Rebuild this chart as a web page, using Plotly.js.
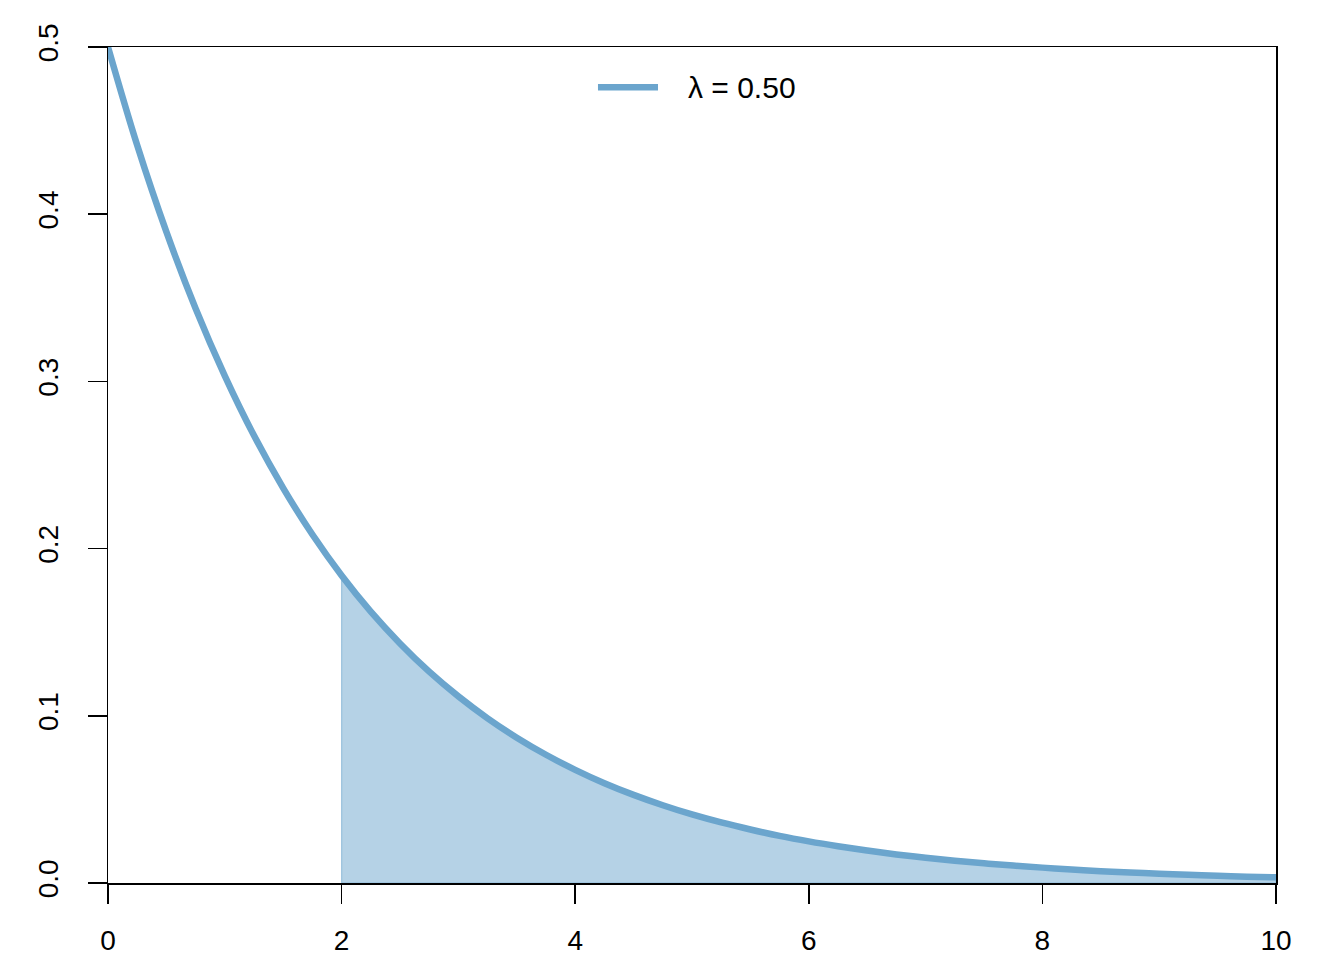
<!DOCTYPE html>
<html>
<head>
<meta charset="utf-8">
<script src="https://cdn.plot.ly/plotly-3.0.1.min.js"></script>
<style>html,body{margin:0;padding:0;background:#fff;}#chart{width:1344px;height:960px;}</style>
</head>
<body>
<div id="chart"></div>
<script>
// Values (density curve, lambda = 0.50)
const xValues = [0,0.25,0.5,0.75,1,1.25,1.5,1.75,2,2.25,2.5,2.75,3,3.25,3.5,3.75,4,4.25,4.5,4.75,5,5.25,5.5,5.75,6,6.25,6.5,6.75,7,7.25,7.5,7.75,8,8.25,8.5,8.75,9,9.25,9.5,9.75,10];
const densityValues = [0.5,0.4412,0.3894,0.3436,0.3033,0.2676,0.2362,0.2084,0.1839,0.1623,0.1433,0.1264,0.1116,0.0985,0.0869,0.0767,0.0677,0.0597,0.0527,0.0465,0.0410,0.0362,0.0320,0.0282,0.0249,0.0220,0.0194,0.0171,0.0151,0.0133,0.0118,0.0104,0.0092,0.0081,0.0071,0.0063,0.0056,0.0049,0.0043,0.0038,0.0034];
const shadeFrom = 2;
const legendLabel = "λ = 0.50";
const xTicks = [0,2,4,6,8,10];
const yTicks = [0.0,0.1,0.2,0.3,0.4,0.5];
const yTickText = ["0.0","0.1","0.2","0.3","0.4","0.5"];

const lineColor = "#6BA5CD";

// shaded tail polygon built from the data
const tailX = [], tailY = [];
xValues.forEach((x, i) => { if (x >= shadeFrom) { tailX.push(x); tailY.push(densityValues[i]); } });
const polyX = [tailX[0]].concat(tailX, [tailX[tailX.length - 1], tailX[0]]);
const polyY = [0].concat(tailY, [0, 0]);

const traces = [
  {
    x: polyX, y: polyY, type: "scatter", mode: "lines",
    fill: "toself", fillcolor: "rgba(107,165,205,0.5)",
    line: {color: "rgba(107,165,205,0.55)", width: 1.2},
    showlegend: false, hoverinfo: "skip"
  },
  {
    x: xValues, y: densityValues, type: "scatter", mode: "lines",
    line: {color: lineColor, width: 6.5, shape: "spline"},
    name: legendLabel, showlegend: false
  }
];

const font = {family: "Liberation Sans, Arial, sans-serif", size: 28, color: "#000"};
const legendFont = {family: "Liberation Sans, Arial, sans-serif", size: 30, color: "#000"};

const layout = {
  width: 1344, height: 960,
  paper_bgcolor: "#fff", plot_bgcolor: "#fff",
  margin: {l: 108, r: 68, t: 47, b: 77, pad: 0},
  font: font,
  showlegend: false,
  shapes: [
    {type: "line", xref: "paper", yref: "paper",
     x0: 0.4195, x1: 0.4709, y0: 0.952, y1: 0.952,
     line: {color: lineColor, width: 6.5}}
  ],
  annotations: [
    {xref: "paper", yref: "paper", x: 0.4949, y: 0.952,
     xanchor: "left", yanchor: "middle", showarrow: false,
     text: legendLabel, font: legendFont}
  ],
  xaxis: {
    range: [0, 10], tickvals: xTicks, ticktext: xTicks.map(String),
    showgrid: false, zeroline: false,
    showline: true, linecolor: "#000", linewidth: 1.5, mirror: true,
    ticks: "outside", ticklen: 19, tickwidth: 1.5, tickcolor: "#000",
    ticklabelstandoff: 13, tickfont: font
  },
  yaxis: {
    range: [0, 0.5], tickvals: yTicks, ticktext: yTickText,
    showgrid: false, zeroline: false,
    showline: true, linecolor: "#000", linewidth: 1.5, mirror: true,
    ticks: "outside", ticklen: 19, tickwidth: 1.5, tickcolor: "#000",
    tickangle: -90, ticklabelstandoff: 18, tickfont: font
  }
};

Plotly.newPlot("chart", traces, layout, {displayModeBar: false, staticPlot: true});
</script>
</body>
</html>
